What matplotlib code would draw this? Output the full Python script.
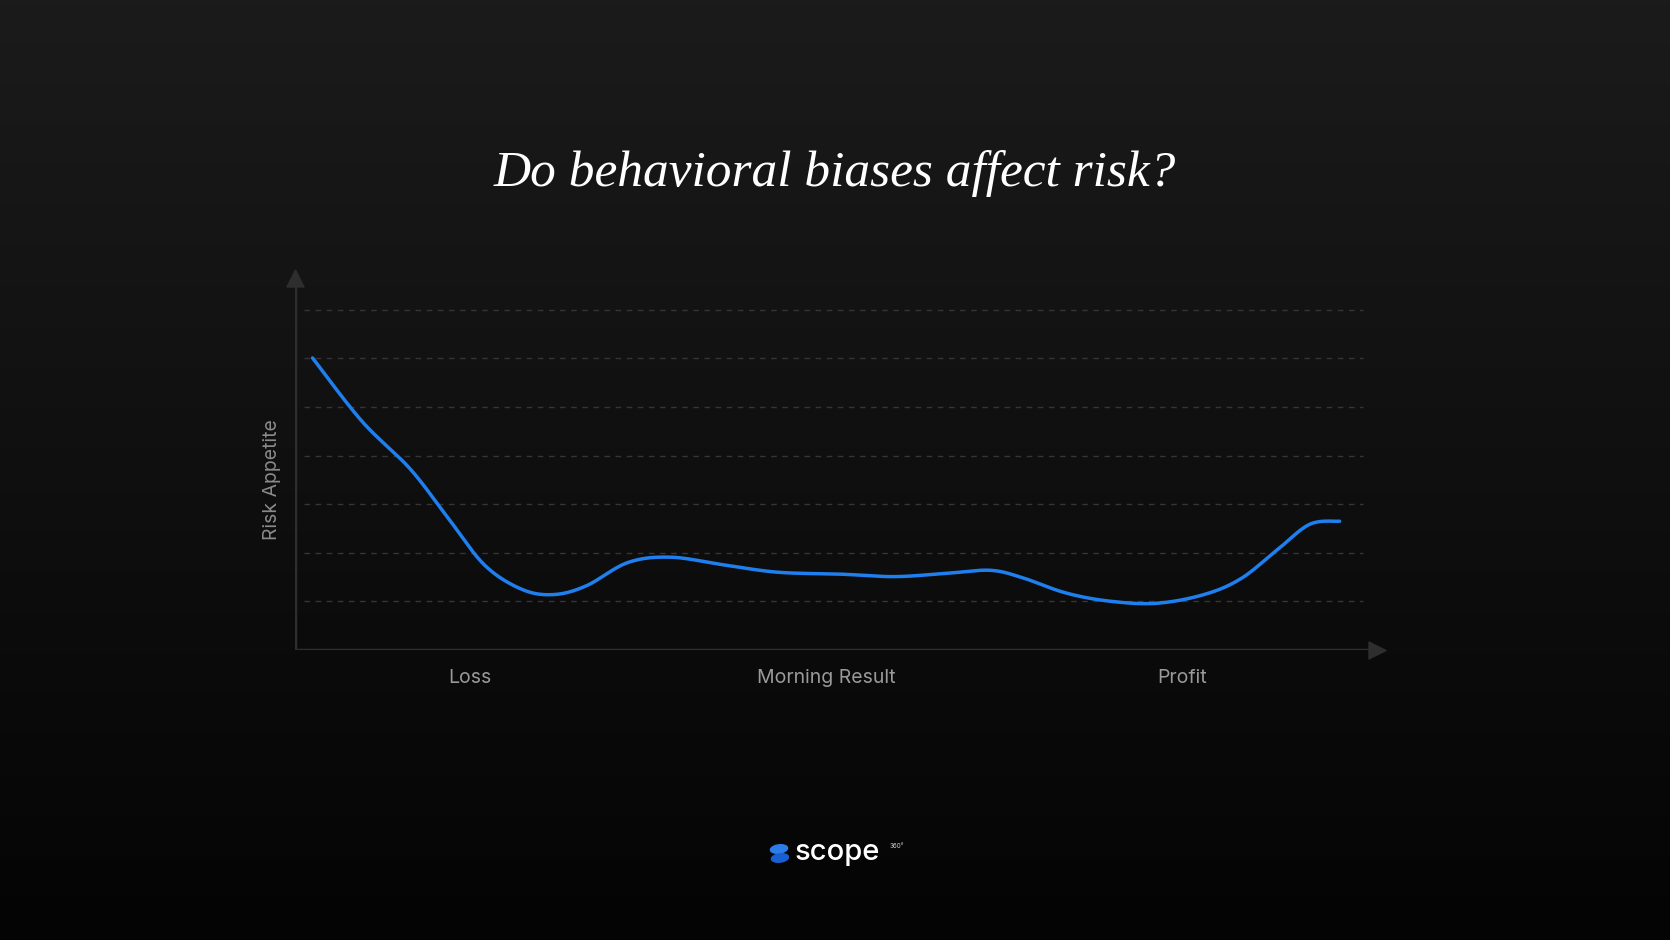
import numpy as np
import matplotlib
matplotlib.use("Agg")
import matplotlib.pyplot as plt
from matplotlib.patches import Ellipse

xs = [0.016,0.061,0.105,0.139,0.173,0.207,0.236,0.266,0.304,0.343,0.392,0.441,0.499,0.548,0.596,0.635,0.664,0.703,0.742,0.786,0.830,0.864,0.898,0.927,0.954]
ys = [6.01,4.71,3.73,2.74,1.75,1.25,1.14,1.32,1.80,1.91,1.75,1.60,1.56,1.51,1.58,1.64,1.49,1.18,1.01,0.96,1.14,1.47,2.08,2.59,2.65]
x_labels = ["Loss", "Morning Result", "Profit"]
x_label_pos = [0.16, 0.485, 0.81]
grid_levels = [1, 2, 3, 4, 5, 6, 7]

def catmull(px, py, n=20):
    px = np.asarray(px); py = np.asarray(py)
    P = np.column_stack([px, py])
    P = np.vstack([P[0], P, P[-1]])
    out = []
    for i in range(1, len(P) - 2):
        p0, p1, p2, p3 = P[i-1], P[i], P[i+1], P[i+2]
        t = np.linspace(0, 1, n, endpoint=False)[:, None]
        seg = 0.5 * ((2*p1) + (-p0+p2)*t + (2*p0-5*p1+4*p2-p3)*t**2 + (-p0+3*p1-3*p2+p3)*t**3)
        out.append(seg)
    out.append(P[-2][None, :])
    o = np.vstack(out)
    return o[:, 0], o[:, 1]

W, H = 1670, 940
fig = plt.figure(figsize=(W/100, H/100), dpi=100)
bg = fig.add_axes([0, 0, 1, 1])
grad = np.linspace(0, 1, 256)[:, None]
bg.imshow(grad, aspect="auto", cmap=matplotlib.colors.LinearSegmentedColormap.from_list("g", ["#1b1b1b", "#040404"]), extent=[0, 1, 0, 1], origin="upper")
bg.set_xlim(0, 1); bg.set_ylim(0, 1); bg.axis("off")

left, right = 295, 1390
bottom = 650
unit = 48.6
ax = fig.add_axes([left/W, (H-bottom)/H, (right-left)/W, 7.9*unit/H])
ax.set_xlim(0, 1); ax.set_ylim(0, 7.9)
ax.patch.set_alpha(0)
for s in ax.spines.values():
    s.set_visible(False)
ax.set_xticks([]); ax.set_yticks([])

for g in grid_levels:
    ax.plot([0.008, 0.975], [g, g], color="#353535", lw=1, ls=(0, (4, 4)))
ax.plot([0, 0.985], [0, 0], color="#2e2e2e", lw=2.5, solid_capstyle="butt")
ax.plot([0, 0], [0, 7.6], color="#2e2e2e", lw=2.5, solid_capstyle="butt")
ax.scatter([0.988], [0], marker=">", s=150, color="#2e2e2e", clip_on=False)
ax.scatter([0], [7.65], marker="^", s=150, color="#2e2e2e", clip_on=False)

cx, cy = catmull(xs, ys)
ax.plot(cx, cy, color="#1f7fef", lw=2.5, solid_capstyle="round")

for lab, p in zip(x_labels, x_label_pos):
    ax.text(p, -0.58, lab, ha="center", va="center", color="#9a9a9a", fontsize=14, family="Inter")
ax.text(-0.021, 3.5, "Risk Appetite", rotation=90, ha="center", va="center", color="#8a8a8a", fontsize=14, family="Inter")

fig.text(0.5, 1 - 174/H, "Do behavioral biases affect risk?", ha="center", va="center",
         color="white", fontsize=37, family="Liberation Serif", style="italic")

# logo
bg.add_patch(Ellipse((779/W, 1-849/H), 18/W, 8/H, angle=30, color="#2d7de8"))
bg.add_patch(Ellipse((780/W, 1-858/H), 18/W, 8/H, angle=30, color="#1a5fd0"))
fig.text(795/W, 1-852/H, "scope", ha="left", va="center", color="white", fontsize=21, family="Inter", weight="medium")
fig.text(890/W, 1-846/H, "360°", ha="left", va="center", color="#cccccc", fontsize=4.5, family="Inter")

fig.savefig("out.png", dpi=100)
